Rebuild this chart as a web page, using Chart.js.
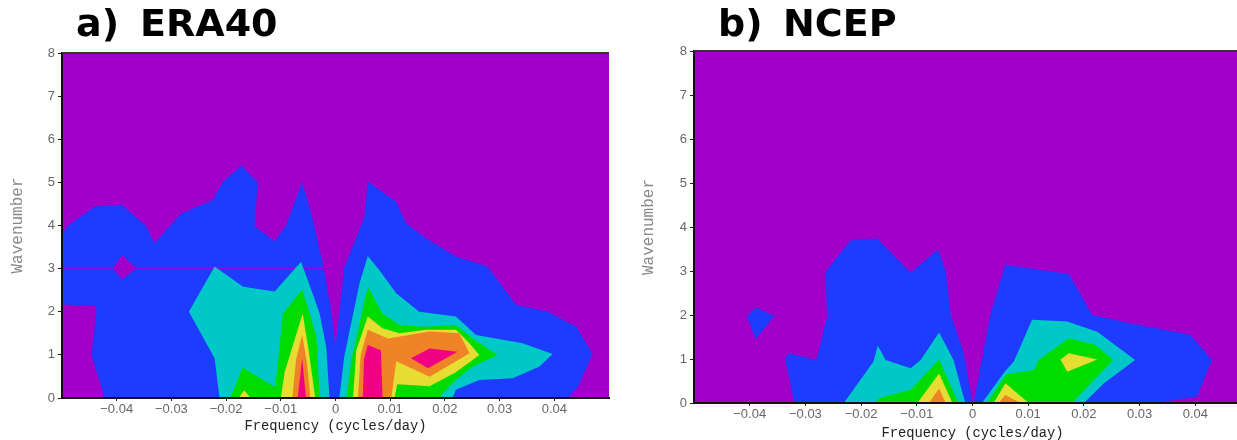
<!DOCTYPE html>
<html>
<head>
<meta charset="utf-8">
<script src="https://cdn.jsdelivr.net/npm/chart.js@4.4.1/dist/chart.umd.min.js"></script>
<style>
  html, body { margin: 0; padding: 0; background: #fff; overflow: hidden; }
  #wrap { position: relative; width: 1237px; height: 440px; overflow: hidden; }
  .panel { position: absolute; top: 0; height: 440px; }
  #panelA { left: 0; width: 625px; }
  #panelB { left: 632px; width: 630px; }
</style>
</head>
<body>
<div id="wrap">
  <div class="panel" id="panelA"><canvas id="chartA" width="625" height="440"></canvas></div>
  <div class="panel" id="panelB"><canvas id="chartB" width="630" height="440"></canvas></div>
</div>
<script>
// axis ticks
const freqTicks = [-0.04, -0.03, -0.02, -0.01, 0, 0.01, 0.02, 0.03, 0.04];
const freqTickLabels = ['\u22120.04', '\u22120.03', '\u22120.02', '\u22120.01', '0', '0.01', '0.02', '0.03', '0.04'];
const waveTicks = [0, 1, 2, 3, 4, 5, 6, 7, 8];

// ERA40 contour outlines, each point is [frequency, wavenumber]
const eraBlue = [[-0.05, 3.78], [-0.049, 3.99], [-0.044, 4.44], [-0.0391, 4.48], [-0.0346, 3.99], [-0.0331, 3.59],
  [-0.0282, 4.28], [-0.0224, 4.59], [-0.0207, 5.0], [-0.0172, 5.39], [-0.0142, 5.0], [-0.0148, 3.99], [-0.0111, 3.63],
  [-0.009, 4.01], [-0.0061, 5.0], [-0.0044, 4.28], [-0.0023, 3.12], [-0.0008, 2.04], [0, 1.19], [0.0016, 3.02],
  [0.0053, 4.2], [0.0059, 5.02], [0.0111, 4.55], [0.0129, 4.05], [0.0166, 3.7], [0.022, 3.28], [0.0278, 3.05],
  [0.033, 2.16], [0.0388, 2.0], [0.044, 1.65], [0.047, 1.02], [0.0443, 0.25], [0.0424, 0], [-0.0422, 0],
  [-0.0446, 1.0], [-0.0437, 2.0], [-0.0438, 2.14], [-0.05, 2.17]];
const eraHole = [[-0.0407, 3.01], [-0.039, 3.32], [-0.0364, 3.01], [-0.039, 2.75]];
const eraStreak = [[-0.05, 3.0], [-0.0022, 3.0]];
const eraCyanWest = [[-0.0268, 2.0], [-0.0221, 3.05], [-0.0169, 2.58], [-0.0111, 2.47], [-0.0063, 3.16], [-0.0044, 2.5],
  [-0.0029, 1.96], [-0.0017, 1.19], [-0.0011, 0], [-0.0212, 0], [-0.0221, 0.92]];
const eraGreenWest = [[-0.0192, 0], [-0.017, 0.71], [-0.011, 0.25], [-0.0096, 1.96], [-0.0061, 2.51], [-0.0047, 1.96],
  [-0.0035, 1.42], [-0.0029, 0]];
const eraYellowWestSmall = [[-0.0177, 0], [-0.0167, 0.18], [-0.0155, 0]];
const eraYellowWest = [[-0.01, 0], [-0.0093, 0.6], [-0.006, 1.96], [-0.0049, 1.1], [-0.0037, 0]];
const eraOrangeWest = [[-0.0079, 0], [-0.0072, 0.9], [-0.0061, 1.46], [-0.0052, 0.8], [-0.0046, 0]];
const eraRedWest = [[-0.0069, 0], [-0.0061, 0.92], [-0.0054, 0]];
const eraCyanEast = [[0.0007, 0], [0.0016, 0.96], [0.0044, 2.66], [0.0059, 3.29], [0.008, 2.97], [0.0111, 2.43],
  [0.0153, 2.0], [0.022, 1.89], [0.0257, 1.46], [0.0342, 1.27], [0.0397, 1.02], [0.0373, 0.73], [0.0324, 0.46],
  [0.0263, 0.42], [0.022, 0.19], [0.0214, 0]];
const eraGreenEast = [[0.002, 0], [0.0029, 0.88], [0.0059, 2.58], [0.0086, 1.96], [0.0117, 1.69], [0.0166, 1.65],
  [0.022, 1.69], [0.0251, 1.38], [0.0296, 1.0], [0.0251, 0.73], [0.022, 0.42], [0.0196, 0.11], [0.019, 0]];
const eraYellowEast = [[0.0032, 0], [0.0038, 1.11], [0.0059, 1.89], [0.0086, 1.62], [0.0117, 1.5], [0.0166, 1.58],
  [0.022, 1.58], [0.0242, 1.31], [0.0263, 1.0], [0.022, 0.6], [0.0172, 0.27], [0.0113, 0.32], [0.0108, 0]];
const eraOrangeEast = [[0.0041, 0], [0.0046, 1.0], [0.0059, 1.58], [0.0096, 1.38], [0.0172, 1.54], [0.0226, 1.5],
  [0.0245, 1.04], [0.0172, 0.49], [0.0111, 0.85], [0.0102, 0]];
const eraRedEast = [[0.005, 0], [0.0052, 0.9], [0.0059, 1.23], [0.0083, 1.11], [0.0086, 0]];
const eraRedIsland = [[0.0138, 0.92], [0.0172, 1.15], [0.0223, 1.07], [0.0169, 0.69]];

// NCEP contour outlines
const ncepBlueWest = [[-0.032, 0], [-0.0332, 0.75], [-0.0337, 0.98], [-0.033, 1.13], [-0.028, 0.98], [-0.0261, 1.96],
  [-0.0264, 2.98], [-0.0219, 3.7], [-0.0171, 3.74], [-0.0111, 2.96], [-0.0062, 3.49], [-0.0048, 3.0],
  [-0.0039, 2.0], [-0.0016, 1.15], [0, 0]];
const ncepBlueEast = [[0.0002, 0], [0.0032, 2.0], [0.0059, 3.14], [0.0173, 2.93], [0.0215, 2.0], [0.0283, 1.81],
  [0.0391, 1.55], [0.043, 0.98], [0.0403, 0.14], [0.0325, 0]];
const ncepBlueIsland = [[-0.0405, 1.98], [-0.0389, 2.17], [-0.0356, 1.98], [-0.0389, 1.45]];
const ncepCyanWest = [[-0.0231, 0], [-0.0178, 0.94], [-0.017, 1.3], [-0.0156, 0.98], [-0.0111, 0.79], [-0.0093, 0.98],
  [-0.006, 1.6], [-0.0034, 0.98], [-0.0013, 0]];
const ncepGreenWest = [[-0.0174, 0], [-0.0168, 0.11], [-0.0111, 0.3], [-0.006, 0.99], [-0.0025, 0]];
const ncepYellowWest = [[-0.0099, 0], [-0.006, 0.67], [-0.0036, 0]];
const ncepOrangeWest = [[-0.0078, 0], [-0.006, 0.33], [-0.0048, 0]];
const ncepCyanEast = [[0.0017, 0], [0.0057, 0.7], [0.0074, 0.94], [0.0107, 1.89], [0.017, 1.85], [0.0224, 1.62],
  [0.0292, 0.98], [0.0236, 0.45], [0.02, 0]];
const ncepGreenEast = [[0.0026, 0], [0.006, 0.65], [0.011, 0.75], [0.0119, 0.98], [0.0173, 1.47], [0.0221, 1.32],
  [0.0253, 0.98], [0.0218, 0.52], [0.0179, 0]];
const ncepYellowIsland = [[0.0158, 0.99], [0.0173, 1.13], [0.0224, 0.99], [0.017, 0.71]];
const ncepYellowEast = [[0.0038, 0], [0.0059, 0.45], [0.0101, 0]];
const ncepOrangeEast = [[0.0047, 0], [0.0059, 0.18], [0.0086, 0]];

// shading colours (GrADS rainbow)
const shade = {
  purple: 'rgb(160,0,200)',
  blue: 'rgb(30,60,255)',
  cyan: 'rgb(0,200,200)',
  green: 'rgb(0,220,0)',
  yellow: 'rgb(230,220,50)',
  orange: 'rgb(240,130,40)',
  red: 'rgb(240,0,130)'
};

// bottom to top
const eraLayers = [
  [eraBlue, 'blue'], [eraHole, 'purple'], [eraStreak, 'purple', 'line'],
  [eraCyanWest, 'cyan'], [eraCyanEast, 'cyan'],
  [eraGreenWest, 'green'], [eraGreenEast, 'green'],
  [eraYellowWestSmall, 'yellow'], [eraYellowWest, 'yellow'], [eraYellowEast, 'yellow'],
  [eraOrangeWest, 'orange'], [eraOrangeEast, 'orange'],
  [eraRedWest, 'red'], [eraRedEast, 'red'], [eraRedIsland, 'red']
];
const ncepLayers = [
  [ncepBlueWest, 'blue'], [ncepBlueEast, 'blue'], [ncepBlueIsland, 'blue'],
  [ncepCyanWest, 'cyan'], [ncepCyanEast, 'cyan'],
  [ncepGreenWest, 'green'], [ncepGreenEast, 'green'],
  [ncepYellowWest, 'yellow'], [ncepYellowEast, 'yellow'], [ncepYellowIsland, 'yellow'],
  [ncepOrangeWest, 'orange'], [ncepOrangeEast, 'orange']
];

function makeDatasets(layers) {
  return layers.map((l, i) => {
    const col = shade[l[1]];
    const isLine = l[2] === 'line';
    return {
      data: l[0].map(p => ({x: p[0], y: p[1]})),
      fill: isLine ? false : 'shape',
      backgroundColor: col,
      borderColor: col,
      borderWidth: isLine ? 1 : 0,
      pointRadius: 0,
      tension: 0,
      order: layers.length - i
    };
  });
}

// purple background, top frame line and the big panel title
const panelDecor = {
  id: 'panelDecor',
  beforeDatasetsDraw(chart, args, opts) {
    const {ctx, chartArea: a} = chart;
    ctx.save();
    ctx.fillStyle = shade.purple;
    ctx.fillRect(a.left, a.top, a.right - a.left, a.bottom - a.top);
    ctx.restore();
  },
  afterDraw(chart, args, opts) {
    const {ctx, chartArea: a} = chart;
    ctx.save();
    ctx.strokeStyle = '#333';
    ctx.lineWidth = 2;
    ctx.beginPath();
    ctx.moveTo(a.left, a.top);
    ctx.lineTo(a.right, a.top);
    ctx.stroke();
    ctx.fillStyle = '#000';
    ctx.font = 'bold 38px "DejaVu Sans"';
    ctx.textBaseline = 'alphabetic';
    opts.parts.forEach(p => ctx.fillText(p.text, p.x, 36));
    ctx.restore();
  }
};

const tickFont = {family: '"Liberation Sans", Arial, sans-serif', size: 13};

function makeChart(id, layers, o) {
  return new Chart(document.getElementById(id), {
    type: 'line',
    data: {datasets: makeDatasets(layers)},
    options: {
      responsive: false,
      animation: false,
      events: [],
      layout: {padding: o.padding},
      plugins: {
        legend: {display: false},
        tooltip: {enabled: false},
        panelDecor: {parts: o.title}
      },
      scales: {
        x: {
          type: 'linear',
          min: -0.05,
          max: 0.05,
          afterBuildTicks: s => { s.ticks = freqTicks.map(v => ({value: v})); },
          afterFit: s => { s.height = o.xHeight; },
          ticks: {
            callback: (v, i) => freqTickLabels[i],
            color: '#666', font: tickFont, padding: 1, maxRotation: 0, autoSkip: false
          },
          grid: {display: true, drawOnChartArea: false, drawTicks: true, tickLength: 3, color: '#222'},
          border: {display: true, color: '#111', width: 2, z: 1},
          title: {
            display: true, text: 'Frequency (cycles/day)', color: '#222',
            font: {family: '"Liberation Mono", monospace', size: 13.8, lineHeight: o.xTitleLH},
            padding: {top: 0, bottom: o.xTitlePad}
          }
        },
        y: {
          type: 'linear',
          min: 0,
          max: 8,
          afterBuildTicks: s => { s.ticks = waveTicks.map(v => ({value: v})); },
          afterFit: s => { s.width = o.yWidth; },
          ticks: {color: '#666', font: tickFont, padding: 3},
          grid: {display: true, drawOnChartArea: false, drawTicks: true, tickLength: 4, color: '#222'},
          border: {display: true, color: '#111', width: 2, z: 1},
          title: {
            display: true, text: 'Wavenumber', color: '#888',
            font: {family: '"Liberation Mono", monospace', size: 16, lineHeight: 1.2},
            padding: {top: o.yTitlePad, bottom: 0}
          }
        }
      }
    },
    plugins: [panelDecor]
  });
}

makeChart('chartA', eraLayers, {
  padding: {top: 53, left: 0, right: 16, bottom: 0},
  xHeight: 42, yWidth: 62, xTitleLH: 1.2, xTitlePad: 5, yTitlePad: 8,
  title: [{text: 'a)', x: 76}, {text: 'ERA40', x: 140}]
});
makeChart('chartB', ncepLayers, {
  padding: {top: 51, left: 0, right: 11, bottom: 0},
  xHeight: 37, yWidth: 62, xTitleLH: 1.0, xTitlePad: 0, yTitlePad: 7,
  title: [{text: 'b)', x: 86}, {text: 'NCEP', x: 151}]
});
</script>
</body>
</html>
